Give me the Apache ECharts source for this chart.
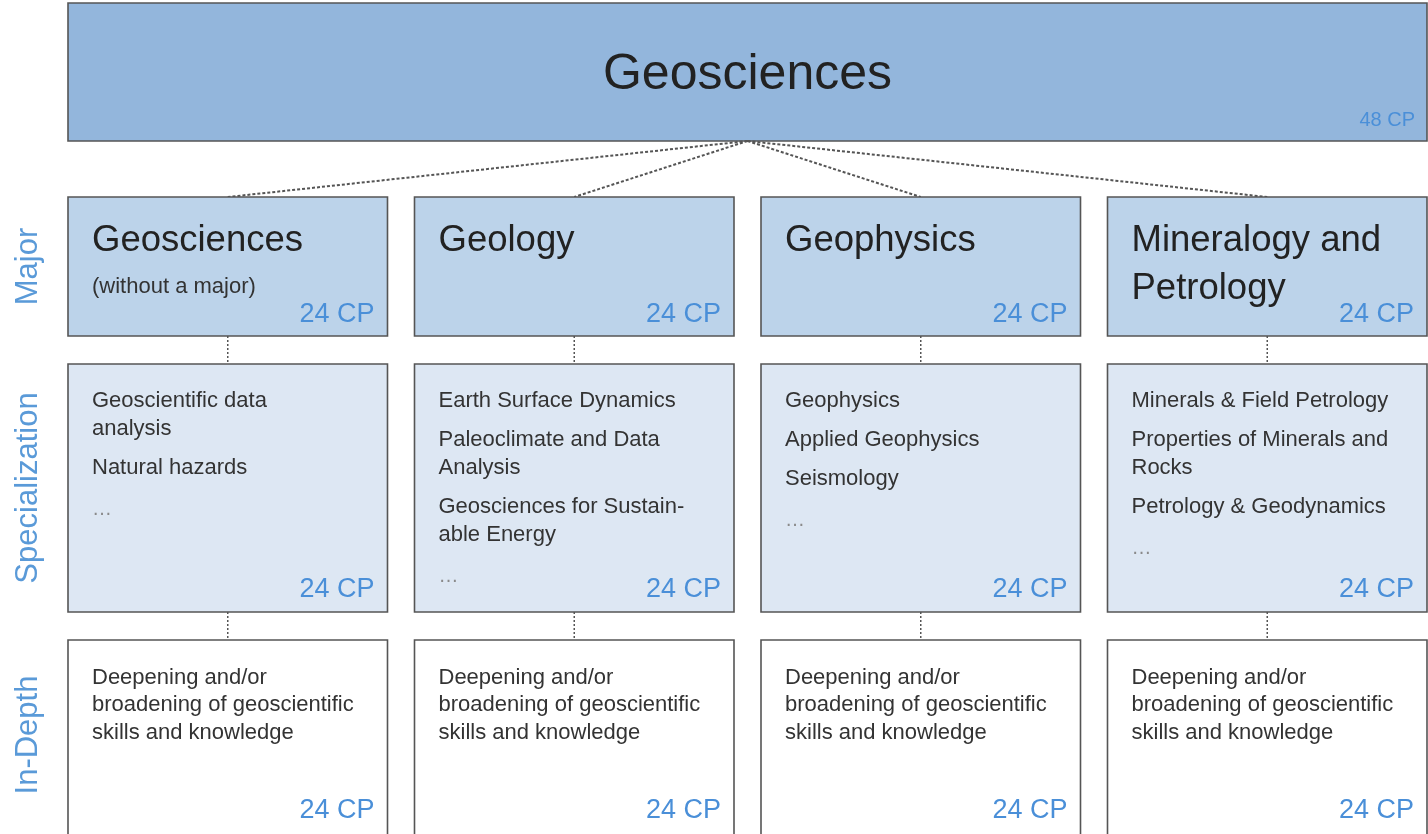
<!DOCTYPE html>
<html><head><meta charset="utf-8">
<script src="https://cdn.jsdelivr.net/npm/echarts@6/dist/echarts.min.js"></script>
<style>html,body{margin:0;padding:0;background:#fff}#c{width:1428px;height:834px}</style>
</head><body><div id="c"></div><script>
// ---- data ----
const rootTitle = 'Geosciences';
const rootCP = 48;
const levels = ['Major', 'Specialization', 'In-Depth'];
const majors = ['Geosciences', 'Geology', 'Geophysics', 'Mineralogy and\nPetrology'];
const majorNotes = ['(without a major)', '', '', ''];
const majorCP = [24, 24, 24, 24];
const specializations = [
  ['Geoscientific data\nanalysis', 'Natural hazards', '…'],
  ['Earth Surface Dynamics', 'Paleoclimate and Data\nAnalysis', 'Geosciences for Sustain-\nable Energy', '…'],
  ['Geophysics', 'Applied Geophysics', 'Seismology', '…'],
  ['Minerals & Field Petrology', 'Properties of Minerals and\nRocks', 'Petrology & Geodynamics', '…']
];
const specCP = [24, 24, 24, 24];
const inDepth = [
  'Deepening and/or\nbroadening of geoscientific\nskills and knowledge',
  'Deepening and/or\nbroadening of geoscientific\nskills and knowledge',
  'Deepening and/or\nbroadening of geoscientific\nskills and knowledge',
  'Deepening and/or\nbroadening of geoscientific\nskills and knowledge'
];
const inDepthCP = [24, 24, 24, 24];

// ---- layout (row bands on the y scale, styles) ----
const rowBands = [[3, 141], [197, 336], [364, 612], [640, 836]];
const FONT = '"Liberation Sans", Arial, Helvetica, sans-serif';
const fills = ['#93b6dc', '#bcd3ea', '#dde7f3', '#ffffff'];
const CP_COLOR = '#4a8fd8';
const LABEL_COLOR = '#5a9ad8';
const BORDER = '#555';

const items = [{ value: [0, 0] }];
for (let l = 1; l <= 3; l++) for (let c = 0; c < majors.length; c++) items.push({ value: [c, l] });

function txt(x, y, text, size, color, align, vAlign, lh, extra) {
  return Object.assign({
    type: 'text', silent: true,
    style: { x, y, text, fill: color, font: size + 'px ' + FONT, align, verticalAlign: vAlign, lineHeight: lh || size * 1.2 }
  }, extra || {});
}

function renderItem(params, api) {
  const col = api.value(0), lvl = api.value(1);
  const band = api.size([1, 0])[0];
  const half = band / 2 - 13.5;
  const Y = v => api.coord([0, v])[1];
  const top = Y(rowBands[lvl][0]), bottom = Y(rowBands[lvl][1]);
  let left, right, cx;
  const last = majors.length - 1;
  if (lvl === 0) {
    left = api.coord([0, 0])[0] - half;
    right = api.coord([last, 0])[0] + half;
  } else {
    cx = api.coord([col, 0])[0];
    left = cx - half; right = cx + half;
  }
  const children = [];
  if (lvl === 1) {
    const rx = (api.coord([0, 0])[0] + api.coord([last, 0])[0]) / 2;
    children.push({ type: 'line', silent: true, shape: { x1: rx, y1: Y(rowBands[0][1]), x2: cx, y2: top },
      style: { stroke: '#555', lineWidth: 2, lineDash: [3, 2] } });
  } else if (lvl > 1) {
    children.push({ type: 'line', silent: true, shape: { x1: cx, y1: Y(rowBands[lvl - 1][1]), x2: cx, y2: top },
      style: { stroke: '#555', lineWidth: 1.5, lineDash: [2, 2] } });
  }
  children.push({ type: 'rect', silent: true, shape: { x: left, y: top, width: right - left, height: bottom - top },
    style: { fill: fills[lvl], stroke: BORDER, lineWidth: 1.6 } });

  if (lvl === 0) {
    children.push(txt((left + right) / 2, top + 72, rootTitle, 50, '#222', 'center', 'middle'));
    children.push(txt(right - 12, bottom - 21, rootCP + ' CP', 20, CP_COLOR, 'right', 'middle'));
  } else if (lvl === 1) {
    children.push(txt(left + 24, top + 20, majors[col], 36.5, '#222', 'left', 'top', 48));
    if (majorNotes[col]) children.push(txt(left + 24, top + 90, majorNotes[col], 22, '#333', 'left', 'middle'));
    children.push(txt(right - 13, bottom - 21, majorCP[col] + ' CP', 27, CP_COLOR, 'right', 'middle'));
  } else if (lvl === 2) {
    let y = top + 23;
    specializations[col].forEach(s => {
      const isDots = s === '…';
      children.push(txt(left + 24, isDots ? y + 2 : y, s, isDots ? 20 : 22, isDots ? '#8a8a8a' : '#333', 'left', 'top', 28));
      y += s.split('\n').length * 28 + 11;
    });
    children.push(txt(right - 13, bottom - 22, specCP[col] + ' CP', 27, CP_COLOR, 'right', 'middle'));
  } else {
    children.push(txt(left + 24, top + 24, inDepth[col], 22, '#333', 'left', 'top', 27.5));
    children.push(txt(right - 13, Y(rowBands[3][0]) + 171, inDepthCP[col] + ' CP', 27, CP_COLOR, 'right', 'middle'));
  }
  if (lvl >= 1 && col === 0) {
    children.push(txt(0, 0, levels[lvl - 1], 31, LABEL_COLOR, 'center', 'middle', 31,
      { x: 28, y: (top + Math.min(bottom, 834)) / 2 + (lvl === 3 ? -2 : 0), rotation: Math.PI / 2 }));
  }
  return { type: 'group', children };
}

const GRID_LEFT = 54.5, BAND = 346.5, GRID_W = 1428 - GRID_LEFT;
const chart = echarts.init(document.getElementById('c'), null, { renderer: 'canvas' });
chart.setOption({
  animation: false,
  grid: { left: GRID_LEFT, right: 0, top: 0, bottom: 0 },
  xAxis: { type: 'value', min: -0.5, max: -0.5 + GRID_W / BAND, show: false },
  yAxis: { type: 'value', min: 0, max: 834, inverse: true, show: false },
  series: [{ type: 'custom', renderItem, data: items, clip: false }]
});
</script></body></html>
